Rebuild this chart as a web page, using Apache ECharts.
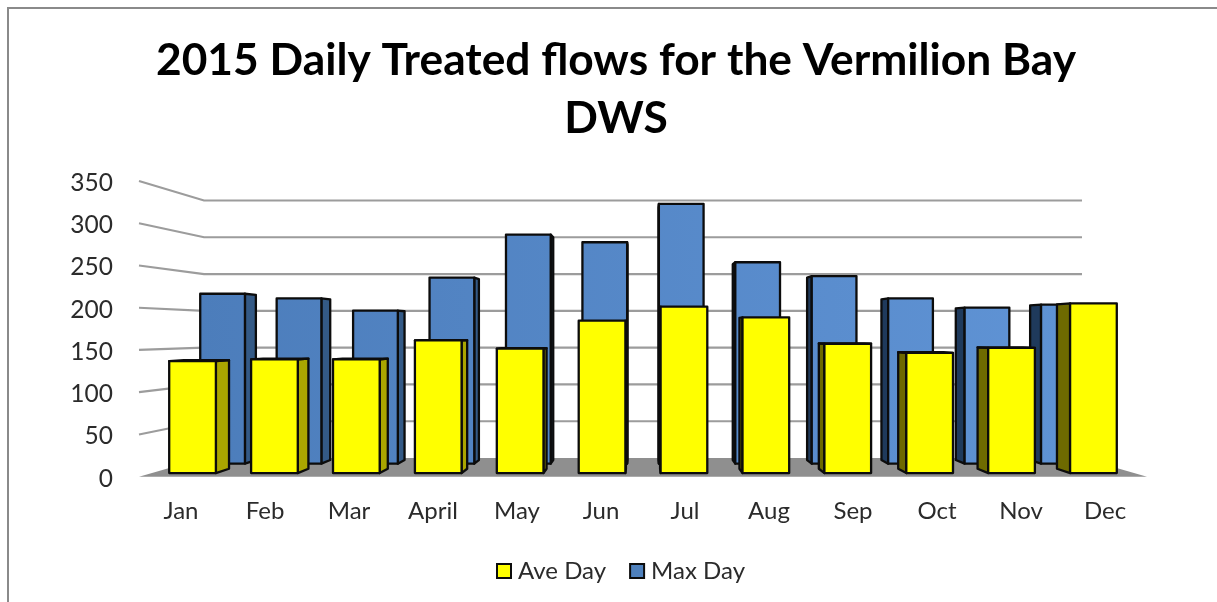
<!DOCTYPE html>
<html>
<head>
<meta charset="utf-8">
<style>
  html, body { margin: 0; padding: 0; background: #fff; }
  #chart { width: 1217px; height: 602px; }
</style>
<script src="https://cdn.jsdelivr.net/npm/echarts@6/dist/echarts.min.js"></script>
</head>
<body>
<div id="chart"></div>
<script>
const months = ['Jan', 'Feb', 'Mar', 'April', 'May', 'Jun', 'Jul', 'Aug', 'Sep', 'Oct', 'Nov', 'Dec'];
const aveDay = [136, 138, 138, 161, 151, 185, 202, 189, 157, 146, 152, 206];
const maxDay = [221, 215, 199, 242, 298, 288, 338, 262, 244, 215, 203, 207];
const wallTicks = [50, 100, 150, 200, 250, 300, 350];

// vanishing point of the fake 3D view, everything is scaled towards it
const VP = [643, 332];
const WALL_DEPTH = 0.871;

function project(p, s) {
  return [VP[0] + s * (p[0] - VP[0]), VP[1] + s * (p[1] - VP[1])];
}

function renderFloor(params, api) {
  const cs = params.coordSys;
  const y0 = api.coord([0, 0])[1];
  const l = [cs.x, y0];
  const r = [cs.x + cs.width, y0];
  return {
    type: 'polygon',
    shape: { points: [l, project(l, WALL_DEPTH), project(r, WALL_DEPTH), r] },
    style: { fill: '#8f8f8f', stroke: null }
  };
}

function renderWallLine(params, api) {
  const cs = params.coordSys;
  const y = api.coord([0, api.value(0)])[1];
  return {
    type: 'polyline',
    shape: {
      points: [
        [cs.x, y],
        project([cs.x, y], WALL_DEPTH),
        project([cs.x + cs.width, y], WALL_DEPTH)
      ]
    },
    style: { fill: null, stroke: '#9c9c9c', lineWidth: 2.2 }
  };
}

// one column: front face plus whichever side and top can be seen
function makeBar(conf) {
  return function (params, api) {
    const top = api.coord([api.value(0), api.value(1)]);
    const base = api.coord([api.value(0), 0]);
    const half = api.size([1, 0])[0] * conf.ratio / 2;
    const f = conf.front;
    const b = conf.back;
    const lt = [top[0] - half, top[1]];
    const rt = [top[0] + half, top[1]];
    const lb = [top[0] - half, base[1]];
    const rb = [top[0] + half, base[1]];
    const line = { stroke: '#0c0c0c', lineWidth: 2.3, lineJoin: 'round' };
    const poly = (pts, fill) => ({
      type: 'polygon',
      shape: { points: pts },
      style: Object.assign({ fill: fill }, line)
    });
    const children = [];

    if (rt[0] < VP[0]) {
      children.push(poly([project(rt, f), project(rt, b), project(rb, b), project(rb, f)], conf.sideRight));
    }
    if (lt[0] > VP[0]) {
      children.push(poly([project(lt, f), project(lt, b), project(lb, b), project(lb, f)], conf.sideLeft));
    }
    if (top[1] > VP[1]) {
      children.push(poly([project(lt, f), project(lt, b), project(rt, b), project(rt, f)], conf.sideRight));
    }
    children.push(poly([project(lt, f), project(rt, f), project(rb, f), project(lb, f)], conf.face));
    return { type: 'group', children: children };
  };
}

const blueFace = new echarts.graphic.LinearGradient(199, 0, 1100, 0, [
  { offset: 0, color: '#4c7dbb' },
  { offset: 1, color: '#6094d6' }
], true);

const chart = echarts.init(document.getElementById('chart'), null, { renderer: 'canvas' });

chart.setOption({
  animation: false,
  backgroundColor: '#fff',
  title: {
    text: '2015 Daily Treated flows for the Vermilion Bay\nDWS',
    left: 611,
    top: 27,
    textAlign: 'center',
    textStyle: {
      fontFamily: 'Lato',
      fontWeight: 'bold',
      fontSize: 44.3,
      lineHeight: 58,
      color: '#000'
    }
  },
  legend: {
    left: 491,
    top: 554,
    itemWidth: 14,
    itemHeight: 14,
    itemGap: 23,
    icon: 'rect',
    selectedMode: false,
    textStyle: { fontFamily: 'Lato', fontSize: 24, color: '#2b2b2b', padding: [0, 0, 0, 2] },
    data: [
      { name: 'Ave Day', itemStyle: { color: '#ffff00', borderColor: '#0c0c0c', borderWidth: 2 } },
      { name: 'Max Day', itemStyle: { color: '#4f81bd', borderColor: '#0c0c0c', borderWidth: 2 } }
    ]
  },
  grid: { left: 139, right: 70, top: 181, bottom: 125.3 },
  xAxis: {
    type: 'category',
    data: months,
    axisLine: { show: false },
    axisTick: { show: false },
    axisLabel: { fontFamily: 'Lato', fontSize: 24, color: '#2b2b2b', margin: 23, interval: 0 }
  },
  yAxis: {
    type: 'value',
    min: 0,
    max: 350,
    interval: 50,
    axisLine: { show: false },
    axisTick: { show: false },
    splitLine: { show: false },
    axisLabel: {
      margin: 26,
      formatter: '{v|{value}}',
      rich: {
        v: { fontFamily: 'Lato', fontSize: 24.5, color: '#2b2b2b', padding: [4, 0, 0, 0] }
      }
    }
  },
  graphic: [{
    type: 'polyline',
    silent: true,
    shape: { points: [[8, 602], [8, 8], [1217, 8]] },
    style: { fill: null, stroke: '#8a8a8a', lineWidth: 2 }
  }],
  series: [
    {
      name: 'Floor',
      type: 'custom',
      z: 1,
      silent: true,
      clip: false,
      renderItem: renderFloor,
      data: [[0]]
    },
    {
      name: 'Wall',
      type: 'custom',
      z: 2,
      silent: true,
      clip: false,
      renderItem: renderWallLine,
      encode: { y: 0 },
      data: wallTicks.map(v => [v])
    },
    {
      name: 'Ave Day',
      type: 'custom',
      z: 4,
      clip: false,
      itemStyle: { color: '#ffff00' },
      encode: { x: 0, y: 1 },
      renderItem: makeBar({
        front: 0.975, back: 0.945, ratio: 0.57,
        face: '#ffff00', sideRight: '#aaa600', sideLeft: '#6e6a00'
      }),
      data: aveDay.map((v, i) => [i, v])
    },
    {
      name: 'Max Day',
      type: 'custom',
      z: 3,
      clip: false,
      itemStyle: { color: '#4f81bd' },
      encode: { x: 0, y: 1 },
      renderItem: makeBar({
        front: 0.91, back: 0.885, ratio: 0.585,
        face: blueFace, sideRight: '#345a86', sideLeft: '#1f3a5c'
      }),
      data: maxDay.map((v, i) => [i, v])
    }
  ]
});
</script>
</body>
</html>
